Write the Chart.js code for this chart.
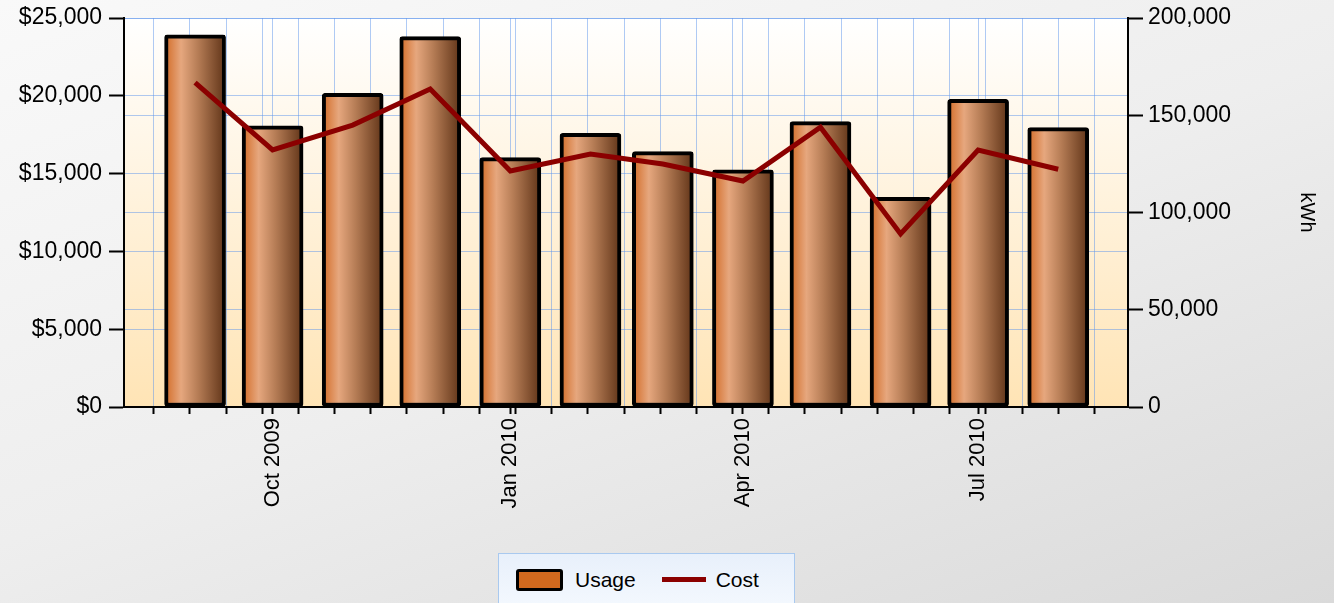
<!DOCTYPE html>
<html>
<head>
<meta charset="utf-8">
<script src="https://cdn.jsdelivr.net/npm/chart.js@4.4.1/dist/chart.umd.min.js"></script>
<style>
html,body{margin:0;padding:0;width:1334px;height:603px;overflow:hidden;}
body{background:linear-gradient(160deg,#f9f9f9 0%,#eeeeee 50%,#dadada 100%);font-family:"Liberation Sans",Arial,sans-serif;}
#wrap{position:absolute;left:0;top:0;width:1334px;height:603px;}
#legend{position:absolute;left:498px;top:553px;width:297px;height:52px;box-sizing:border-box;border:1px solid #a9c9ef;border-bottom:none;background:linear-gradient(#e8f0fb,#f3f8fe);display:flex;align-items:center;padding-left:17px;font-size:21px;color:#000;}
.sw-bar{width:47px;height:22px;box-sizing:border-box;border:3px solid #000;border-radius:3px;margin-right:12px;}
.sw-line{width:44px;height:5px;margin-left:26px;margin-right:10px;}
</style>
</head>
<body>
<div id="wrap"><canvas id="c"></canvas></div>
<div id="legend"></div>
<script>
// ---- data ----
const months = ['2009-09-01','2009-10-01','2009-11-01','2009-12-01','2010-01-01','2010-02-01',
                '2010-03-01','2010-04-01','2010-05-01','2010-06-01','2010-07-01','2010-08-01'];
const usageKWh = [191300,144500,161300,190400,128200,140700,131300,121900,146700,107800,158200,143600];
const costUSD  = [20840,16520,18120,20440,15170,16260,15620,14520,17980,11120,16520,15280];
const quarterTickDates  = ['2009-10-01','2010-01-01','2010-04-01','2010-07-01'];
const quarterTickLabels = ['Oct 2009','Jan 2010','Apr 2010','Jul 2010'];
const seriesNames = ['Usage','Cost'];
const rightAxisTitle = 'kWh';

// ---- helpers ----
const DAY = 86400000;
const origin = Date.parse(months[0] + 'T00:00:00Z');
const dayOf = s => Math.round((Date.parse(s + 'T00:00:00Z') - origin) / DAY);
const xVals = months.map(dayOf);
const majorDays = quarterTickDates.map(dayOf);
const xMin = xVals[0] - 27.5, xMax = xVals[xVals.length - 1] + 27;
const minorStart = dayOf('2009-08-16');
const tickDays = [];
for (let d = minorStart; d <= xMax; d += 14) tickDays.push(d);
majorDays.forEach(d => { if (!tickDays.includes(d)) tickDays.push(d); });
tickDays.sort((a, b) => a - b);

const BAR_W = 61;
const BAR_FILL = '#D2691E';
const LINE_COLOR = '#8B0000';
const GRID = 'rgba(95,150,235,0.5)';
const FONT = '"Liberation Sans", Arial, sans-serif';

Chart.defaults.font.family = FONT;
Chart.defaults.color = '#000';

const plotBg = {
  id: 'plotBg',
  beforeDraw(chart) {
    const {ctx, chartArea: a} = chart;
    const g = ctx.createLinearGradient(0, a.top, 0, a.bottom);
    g.addColorStop(0, '#ffffff');
    g.addColorStop(1, '#ffe4b5');
    ctx.save();
    ctx.fillStyle = g;
    ctx.fillRect(a.left, a.top, a.right - a.left, a.bottom - a.top);
    ctx.restore();
  }
};

function barGradient(c) {
  const chart = c.chart;
  const xs = chart.scales && chart.scales.x;
  if (c.type !== 'data' || !xs || !chart.chartArea) return BAR_FILL;
  const cx = xs.getPixelForValue(xVals[c.dataIndex]);
  const g = chart.ctx.createLinearGradient(cx - BAR_W / 2, 0, cx + BAR_W / 2, 0);
  g.addColorStop(0, '#d26a24');
  g.addColorStop(0.27, '#e6a77e');
  g.addColorStop(0.55, '#b57c55');
  g.addColorStop(1, '#5f3317');
  return g;
}

const noPad = s => { s.paddingTop = 0; s.paddingBottom = 0; };

new Chart(document.getElementById('c'), {
  type: 'bar',
  data: {
    datasets: [
      {
        type: 'bar',
        label: seriesNames[0],
        data: xVals.map((x, i) => ({x, y: usageKWh[i]})),
        yAxisID: 'y1',
        order: 1,
        barThickness: BAR_W,
        backgroundColor: barGradient,
        borderColor: '#000',
        borderWidth: 4,
        borderRadius: 3,
        borderSkipped: false
      },
      {
        type: 'line',
        label: seriesNames[1],
        data: xVals.map((x, i) => ({x, y: costUSD[i]})),
        yAxisID: 'y',
        order: 0,
        borderColor: LINE_COLOR,
        backgroundColor: LINE_COLOR,
        borderWidth: 5,
        pointRadius: 0,
        tension: 0,
        fill: false
      }
    ]
  },
  options: {
    responsive: true,
    maintainAspectRatio: false,
    animation: false,
    devicePixelRatio: 1,
    events: [],
    layout: {padding: {top: 18, left: 0, right: 0, bottom: 0}},
    plugins: {legend: {display: false}, tooltip: {enabled: false}},
    scales: {
      x: {
        type: 'linear',
        position: 'bottom',
        min: xMin,
        max: xMax,
        offset: false,
        afterBuildTicks: s => { s.ticks = tickDays.map(v => ({value: v})); },
        afterFit: s => { s.height = 196; s.paddingLeft = 0; s.paddingRight = 0; },
        grid: {offset: false, color: GRID, lineWidth: 1, tickColor: '#000', tickLength: 7, tickWidth: 2},
        border: {color: '#000', width: 2},
        ticks: {
          autoSkip: false, minRotation: 90, maxRotation: 90, padding: 4,
          font: {size: 22},
          callback: v => { const k = majorDays.indexOf(v); return k >= 0 ? quarterTickLabels[k] : ''; }
        }
      },
      y: {
        position: 'left',
        min: 0, max: 25000,
        afterFit: s => { s.width = 124; noPad(s); },
        grid: {color: GRID, lineWidth: 1, tickColor: '#000', tickLength: 15, tickWidth: 2},
        border: {color: '#000', width: 2},
        ticks: {stepSize: 5000, padding: 7, font: {size: 23},
          callback: v => '$' + Number(v).toLocaleString('en-US')}
      },
      y1: {
        position: 'right',
        min: 0, max: 200000,
        afterFit: s => { s.width = 206; noPad(s); },
        grid: {color: GRID, lineWidth: 1, tickColor: '#000', tickLength: 15, tickWidth: 2, drawOnChartArea: true},
        border: {color: '#000', width: 2},
        ticks: {stepSize: 50000, padding: 5, font: {size: 23},
          callback: v => Number(v).toLocaleString('en-US')},
        title: {display: true, text: rightAxisTitle, font: {size: 20}, padding: {top: 15, bottom: 0}}
      }
    }
  },
  plugins: [plotBg]
});

// HTML legend built from the series names / colours
const lg = document.getElementById('legend');
const b = document.createElement('div'); b.className = 'sw-bar'; b.style.background = BAR_FILL; lg.appendChild(b);
const t1 = document.createElement('span'); t1.textContent = seriesNames[0]; lg.appendChild(t1);
const l = document.createElement('div'); l.className = 'sw-line'; l.style.background = LINE_COLOR; lg.appendChild(l);
const t2 = document.createElement('span'); t2.textContent = seriesNames[1]; lg.appendChild(t2);
</script>
</body>
</html>
